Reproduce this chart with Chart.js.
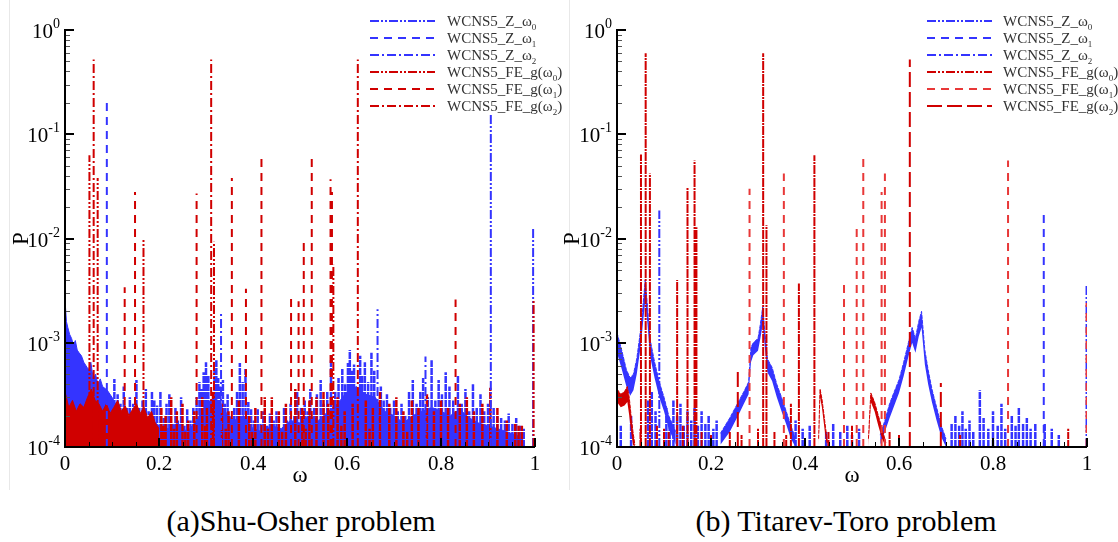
<!DOCTYPE html>
<html>
<head>
<meta charset="utf-8">
<script src="https://cdn.jsdelivr.net/npm/chart.js@4.4.1/dist/chart.umd.min.js"></script>
<style>
  body { margin: 0; width: 1118px; height: 542px; background: #fff; position: relative; overflow: hidden; }
  canvas { position: absolute; top: 0; }
  #leftChart { left: 0; }
  #rightChart { left: 559px; }
  .edge { position: absolute; top: 0; width: 1px; height: 490px; background: #e8e8e8; }
  .caption { position: absolute; top: 502px; width: 600px; text-align: center;
    font: 30px "Liberation Serif", "Times New Roman", serif; color: #000; line-height: 38px; }
</style>
</head>
<body>
<div class="edge" style="left:9px"></div>
<div class="edge" style="left:569px"></div>
<canvas id="leftChart" width="572" height="490"></canvas>
<canvas id="rightChart" width="559" height="490"></canvas>
<div class="caption" style="left:1px">(a)Shu-Osher problem</div>
<div class="caption" style="left:546px">(b) Titarev-Toro problem</div>
<script>
const FLOOR = 1e-4;
const SERIF = '"Liberation Serif", "Times New Roman", serif';

// axis ticks
const yDecades = [0, -1, -2, -3, -4];
const yTickExp = ['0', '-1', '-2', '-3', '-4'];
const xTicks = [0, 0.2, 0.4, 0.6, 0.8, 1];
const xTickLabels = ['0', '0.2', '0.4', '0.6', '0.8', '1'];

const legendLabels = [
  'WCNS5_Z_ω{0}', 'WCNS5_Z_ω{1}', 'WCNS5_Z_ω{2}',
  'WCNS5_FE_g(ω{0})', 'WCNS5_FE_g(ω{1})', 'WCNS5_FE_g(ω{2})',
];

// ---- (a) Shu-Osher: [omega, P] spikes ----
const leftZ0 = [[0.906, 0.16], [0.996, 0.0128]];
const leftZ1 = [[0.089, 0.2]];
const leftZ2 = [[0.332, 1.9e-3], [0.665, 2.1e-3], [0.767, 7.4e-4]];
const leftFE0 = [[0.052, 0.063], [0.0695, 0.038], [0.167, 0.0098], [0.317, 0.0093], [0.571, 5.6e-3], [0.997, 2.6e-3]];
const leftFE1 = [[0.127, 3.4e-3], [0.149, 0.028], [0.28, 0.027], [0.355, 0.038], [0.385, 3.3e-3], [0.418, 0.062],
  [0.481, 2.8e-3], [0.497, 2.5e-3], [0.508, 9.8e-3], [0.525, 0.061], [0.565, 0.037], [0.568, 0.028], [0.831, 2.6e-3]];
const leftFE2 = [[0.061, 0.52], [0.311, 0.52], [0.623, 0.52]];

// dense low-frequency content and the broadband floor
const leftZBandW = [0, 0.003, 0.006, 0.01, 0.014, 0.018, 0.022, 0.026, 0.03, 0.035, 0.04, 0.045, 0.05, 0.055, 0.06, 0.065, 0.07, 0.075, 0.08, 0.09, 0.1, 0.11];
const leftZBandP = [2.6e-3, 1.6e-3, 1.4e-3, 1.2e-3, 1.1e-3, 9.5e-4, 1.05e-3, 8.5e-4, 8e-4, 7.5e-4, 6.5e-4, 6e-4, 5.5e-4, 6.5e-4, 4.5e-4, 5e-4, 4e-4, 4.5e-4, 3.8e-4, 3.5e-4, 3e-4, 2.5e-4];
const leftFEBandW = [0, 0.008, 0.016, 0.024, 0.032, 0.04, 0.048, 0.056, 0.064, 0.072, 0.08, 0.088, 0.096, 0.104, 0.112, 0.12, 0.128, 0.136, 0.144, 0.152, 0.16, 0.168, 0.176, 0.184, 0.192, 0.2];
const leftFEBandP = [3.4e-4, 2.4e-4, 2.8e-4, 2.2e-4, 2.6e-4, 2.4e-4, 3e-4, 3.6e-4, 2.8e-4, 2.6e-4, 2.2e-4, 2.6e-4, 2.1e-4, 2.4e-4, 2.8e-4, 2.2e-4, 2.5e-4, 2e-4, 2.3e-4, 2.6e-4, 2.1e-4, 2.4e-4, 1.9e-4, 2.2e-4, 1.7e-4, 1.5e-4];
const leftZBaseW = [0.1, 0.12, 0.14, 0.16, 0.18, 0.2, 0.22, 0.24, 0.26, 0.28, 0.3, 0.32, 0.34, 0.36, 0.38, 0.4, 0.42, 0.44, 0.46, 0.48, 0.5,
  0.52, 0.54, 0.56, 0.58, 0.6, 0.62, 0.64, 0.66, 0.68, 0.7, 0.72, 0.74, 0.76, 0.78, 0.8, 0.82, 0.84, 0.86, 0.88, 0.9, 0.92, 0.94, 0.96, 0.975];
const leftZBaseP = [2.2e-4, 1.8e-4, 2e-4, 1.7e-4, 1.9e-4, 1.6e-4, 1.5e-4, 1.7e-4, 1.4e-4, 1.8e-4, 2.6e-4, 3e-4, 2.2e-4, 1.8e-4, 2e-4, 1.5e-4, 1.4e-4, 1.6e-4, 1.5e-4, 1.8e-4, 1.7e-4,
  2e-4, 1.8e-4, 2.2e-4, 2.6e-4, 3.4e-4, 3.8e-4, 3.2e-4, 3e-4, 2.2e-4, 2e-4, 1.7e-4, 2e-4, 2.2e-4, 2.4e-4, 2.2e-4, 2e-4, 2.3e-4, 1.9e-4, 1.7e-4, 1.6e-4, 1.5e-4, 1.4e-4, 1.3e-4, 1.2e-4];

const leftZNoise = [[0.105, 4.5e-4], [0.112, 3.2e-4], [0.118, 2.6e-4], [0.125, 3.8e-4], [0.132, 2.4e-4], [0.138, 3e-4],
  [0.145, 2.6e-4], [0.152, 4.4e-4], [0.158, 2.4e-4], [0.165, 2.8e-4], [0.172, 3.6e-4], [0.178, 2.2e-4], [0.185, 3.4e-4],
  [0.19, 2.8e-4], [0.196, 2.5e-4], [0.203, 3.4e-4], [0.21, 1.9e-4], [0.216, 2.6e-4], [0.222, 3.2e-4], [0.229, 1.7e-4],
  [0.235, 2.4e-4], [0.24, 1.8e-4], [0.247, 3e-4], [0.254, 1.6e-4], [0.26, 2.3e-4], [0.267, 1.8e-4], [0.273, 2.4e-4],
  [0.28, 3e-4], [0.286, 4.2e-4], [0.29, 3.6e-4], [0.295, 5.2e-4], [0.3, 6.5e-4], [0.305, 4.8e-4], [0.318, 5.5e-4],
  [0.322, 6.8e-4], [0.326, 4.6e-4], [0.33, 3.8e-4], [0.336, 4.4e-4], [0.34, 2.6e-4], [0.346, 3.2e-4], [0.352, 1.9e-4],
  [0.36, 2.4e-4], [0.366, 3.4e-4], [0.372, 6.4e-4], [0.378, 4.2e-4], [0.384, 5.6e-4], [0.39, 2.7e-4], [0.396, 2.3e-4],
  [0.402, 1.8e-4], [0.41, 2.3e-4], [0.416, 1.7e-4], [0.422, 2.2e-4], [0.43, 1.6e-4], [0.436, 2.1e-4], [0.444, 1.8e-4],
  [0.45, 2.2e-4], [0.458, 1.5e-4], [0.466, 2.4e-4], [0.472, 1.8e-4], [0.48, 2.6e-4], [0.488, 2e-4], [0.494, 3.4e-4],
  [0.502, 2.4e-4], [0.51, 2.8e-4], [0.516, 2.2e-4], [0.522, 3.6e-4], [0.53, 2.4e-4], [0.536, 3.2e-4], [0.544, 4.4e-4],
  [0.55, 2.6e-4], [0.558, 3.4e-4], [0.566, 6.8e-4], [0.575, 3.4e-4], [0.582, 4.6e-4], [0.59, 5.6e-4], [0.596, 4e-4],
  [0.602, 6.4e-4], [0.606, 8.5e-4], [0.61, 5.4e-4], [0.615, 6.2e-4], [0.628, 7.5e-4], [0.632, 4.8e-4], [0.638, 6.5e-4],
  [0.645, 4.2e-4], [0.652, 8e-4], [0.658, 5.4e-4], [0.672, 3.8e-4], [0.678, 2.8e-4], [0.685, 3.2e-4], [0.692, 2.4e-4],
  [0.7, 2.8e-4], [0.708, 2.2e-4], [0.716, 2.6e-4], [0.724, 2e-4], [0.732, 3.4e-4], [0.74, 4.4e-4], [0.748, 2.6e-4],
  [0.756, 3.4e-4], [0.762, 4.6e-4], [0.772, 3e-4], [0.78, 6.8e-4], [0.788, 2.8e-4], [0.795, 4.4e-4], [0.802, 3.2e-4],
  [0.81, 5.2e-4], [0.818, 3.8e-4], [0.826, 2.8e-4], [0.836, 4.8e-4], [0.844, 2.6e-4], [0.852, 3.6e-4], [0.86, 2.2e-4],
  [0.868, 4e-4], [0.876, 2.4e-4], [0.884, 3.2e-4], [0.892, 2.2e-4], [0.9, 2.6e-4], [0.912, 2.4e-4], [0.92, 2e-4],
  [0.928, 1.9e-4], [0.936, 1.8e-4], [0.944, 2.1e-4], [0.952, 1.7e-4], [0.96, 1.9e-4], [0.968, 1.6e-4], [0.976, 1.5e-4]];
const leftFENoise = [[0.205, 2.4e-4], [0.21, 1.6e-4], [0.214, 2e-4], [0.226, 3e-4], [0.232, 1.5e-4], [0.238, 2.2e-4],
  [0.25, 2.6e-4], [0.256, 1.4e-4], [0.262, 1.8e-4], [0.275, 2.2e-4], [0.292, 3e-4], [0.298, 1.6e-4], [0.302, 2.4e-4],
  [0.315, 3.4e-4], [0.334, 2.6e-4], [0.342, 1.5e-4], [0.348, 2.2e-4], [0.37, 2.8e-4], [0.392, 2e-4], [0.398, 1.4e-4],
  [0.405, 2.4e-4], [0.425, 3e-4], [0.432, 1.5e-4], [0.44, 3e-4], [0.455, 2.2e-4], [0.462, 1.4e-4], [0.47, 2.6e-4],
  [0.49, 3.6e-4], [0.505, 2.4e-4], [0.512, 1.5e-4], [0.52, 2.8e-4], [0.535, 3e-4], [0.55, 3.4e-4], [0.56, 2.6e-4],
  [0.58, 3e-4], [0.588, 1.6e-4], [0.595, 2.2e-4], [0.612, 2.6e-4], [0.64, 2.8e-4], [0.648, 1.5e-4], [0.655, 2.4e-4],
  [0.67, 3.4e-4], [0.69, 2.6e-4], [0.705, 3e-4], [0.72, 2.2e-4], [0.728, 1.4e-4], [0.738, 2.8e-4], [0.752, 2.4e-4],
  [0.77, 3.2e-4], [0.785, 2.2e-4], [0.8, 2.8e-4], [0.815, 2.4e-4], [0.84, 2.6e-4], [0.855, 3e-4], [0.87, 2.2e-4],
  [0.888, 2.6e-4], [0.905, 3.7e-4], [0.92, 2.4e-4], [0.94, 1.8e-4], [0.958, 1.7e-4], [0.965, 1.6e-4], [0.972, 1.6e-4]];

// ---- (b) Titarev-Toro ----
const rightZ0 = [[0.09, 0.0186], [0.999, 3.5e-3]];
const rightZ1 = [[0.908, 0.0172]];
const rightFE0 = [[0.051, 0.064], [0.061, 0.6], [0.07, 0.042], [0.128, 4e-3], [0.15, 0.031], [0.165, 0.056],
  [0.169, 0.0128], [0.311, 0.6], [0.318, 0.0134], [0.387, 3.7e-3], [0.42, 0.063]];
const rightFE1 = [[0.282, 0.03], [0.355, 0.042], [0.483, 3.7e-3], [0.51, 0.0134], [0.524, 0.064], [0.563, 0.028],
  [0.57, 0.042], [0.832, 0.056], [0.999, 2.4e-3]];
const rightFE2 = [[0.257, 5.7e-4], [0.623, 0.52], [0.689, 4.1e-4]];

// Z_w2 broadband humps: omega, upper and lower envelope
const rightHump1W = [0, 0.01, 0.02, 0.028, 0.035, 0.042, 0.05, 0.055, 0.06, 0.065, 0.07, 0.08, 0.09, 0.1, 0.11, 0.125];
const rightHump1Up = [1.25e-3, 8.5e-4, 5.5e-4, 4.6e-4, 5e-4, 7e-4, 1.3e-3, 2.2e-3, 4e-3, 2.2e-3, 1.1e-3, 6.5e-4, 4.2e-4, 3e-4, 2e-4, 1.4e-4];
const rightHump1Lo = [8e-4, 5.6e-4, 3.8e-4, 3.1e-4, 3.5e-4, 5e-4, 9e-4, 1.5e-3, 2.5e-3, 1.5e-3, 7.6e-4, 4.6e-4, 3e-4, 2.2e-4, 1.5e-4, 1.05e-4];
const rightHump2W = [0.22, 0.24, 0.26, 0.27, 0.28, 0.285, 0.29, 0.3, 0.305, 0.31, 0.315, 0.32, 0.33, 0.34, 0.35, 0.36, 0.37, 0.38];
const rightHump2Up = [1.35e-4, 1.9e-4, 2.8e-4, 3.4e-4, 4.2e-4, 9e-4, 1e-3, 1.1e-3, 1.5e-3, 2.2e-3, 1.2e-3, 7e-4, 5.8e-4, 4e-4, 3e-4, 2.2e-4, 1.6e-4, 1.2e-4];
const rightHump2Lo = [1.05e-4, 1.4e-4, 2.1e-4, 2.6e-4, 3.2e-4, 6.5e-4, 7.6e-4, 8.4e-4, 1.1e-3, 1.5e-3, 8.6e-4, 5.2e-4, 4.3e-4, 3e-4, 2.2e-4, 1.65e-4, 1.2e-4, 1e-4];
const rightHump3W = [0.56, 0.57, 0.58, 0.59, 0.6, 0.61, 0.62, 0.628, 0.635, 0.642, 0.648, 0.655, 0.662, 0.67, 0.68, 0.69, 0.7];
const rightHump3Up = [1.3e-4, 1.8e-4, 2.6e-4, 3.4e-4, 4.4e-4, 6.5e-4, 1e-3, 1.4e-3, 1.1e-3, 1.6e-3, 2e-3, 8.5e-4, 5.5e-4, 3.6e-4, 2.4e-4, 1.6e-4, 1.2e-4];
const rightHump3Lo = [1.05e-4, 1.4e-4, 1.9e-4, 2.5e-4, 3.3e-4, 4.8e-4, 7.4e-4, 1e-3, 8e-4, 1.15e-3, 1.4e-3, 6.2e-4, 4e-4, 2.7e-4, 1.8e-4, 1.25e-4, 1e-4];

// FE_g low-level humps
const rightRedHump1W = [0, 0.008, 0.016, 0.022, 0.026, 0.03, 0.034, 0.038];
const rightRedHump1Up = [3.6e-4, 3.2e-4, 3.4e-4, 3.8e-4, 3e-4, 2e-4, 1.4e-4, 1.05e-4];
const rightRedHump1Lo = [2.7e-4, 2.4e-4, 2.5e-4, 2.7e-4, 2e-4, 1.4e-4, 1.05e-4, 1e-4];
const rightRedHump2W = [0.429, 0.432, 0.436, 0.44, 0.444, 0.448];
const rightRedHump2Up = [1.2e-4, 3.6e-4, 2.9e-4, 2.1e-4, 1.5e-4, 1.1e-4];
const rightRedHump2Lo = [1e-4, 3e-4, 2.4e-4, 1.7e-4, 1.2e-4, 1e-4];
const rightRedHump3W = [0.535, 0.54, 0.548, 0.556, 0.564, 0.572];
const rightRedHump3Up = [1.2e-4, 3.3e-4, 2.7e-4, 2e-4, 1.5e-4, 1.1e-4];
const rightRedHump3Lo = [1e-4, 2.7e-4, 2.2e-4, 1.6e-4, 1.2e-4, 1e-4];

const rightZNoise = [[0.008, 1.6e-4], [0.03, 2e-4], [0.066, 2.8e-4], [0.074, 3.4e-4], [0.082, 2.2e-4],
  [0.105, 2.4e-4], [0.112, 1.8e-4], [0.12, 2.8e-4], [0.128, 2e-4], [0.135, 2.6e-4], [0.142, 1.6e-4],
  [0.15, 2.2e-4], [0.158, 1.8e-4], [0.165, 2.4e-4], [0.172, 1.6e-4], [0.18, 2.2e-4], [0.188, 1.7e-4], [0.195, 2e-4],
  [0.205, 1.5e-4], [0.212, 1.8e-4], [0.38, 1.8e-4], [0.395, 1.5e-4], [0.41, 1.6e-4], [0.445, 1.4e-4], [0.46, 1.7e-4],
  [0.475, 1.4e-4], [0.49, 1.6e-4], [0.5, 1.3e-4], [0.515, 1.5e-4], [0.712, 1.7e-4], [0.72, 2e-4], [0.728, 1.6e-4],
  [0.735, 2.2e-4], [0.742, 1.5e-4], [0.75, 1.8e-4], [0.758, 1.4e-4], [0.772, 3.5e-4], [0.78, 1.9e-4], [0.79, 1.5e-4],
  [0.8, 2.2e-4], [0.81, 1.6e-4], [0.818, 2.6e-4], [0.826, 1.5e-4], [0.84, 2e-4], [0.848, 1.6e-4], [0.855, 2.4e-4],
  [0.864, 1.7e-4], [0.872, 1.9e-4], [0.88, 1.5e-4], [0.89, 1.7e-4], [0.91, 1.7e-4], [0.925, 1.5e-4], [0.94, 1.3e-4]];
const rightFENoise = [[0.05, 1.5e-4], [0.085, 1.6e-4], [0.1, 1.5e-4], [0.11, 1.4e-4], [0.14, 1.6e-4],
  [0.18, 1.4e-4], [0.2, 1.3e-4], [0.24, 1.4e-4], [0.265, 1.3e-4], [0.3, 1.5e-4], [0.335, 1.4e-4], [0.36, 1.3e-4],
  [0.37, 2.6e-4], [0.45, 1.4e-4], [0.5, 1.6e-4], [0.58, 1.4e-4], [0.6, 1.3e-4], [0.73, 1.3e-4], [0.96, 1.5e-4]];

const BLUE = 'rgb(52,52,255)';
const RED = 'rgb(208,0,0)';
const RED_LIGHT = 'rgb(232,56,56)';
const DASH_DDOT = [9, 2, 2, 2, 2, 2];
const DASH = [8, 6];
const DASH_DOT = [9, 3, 2, 3];
const LONG_DASH = [15, 5];
const NOISE_DASH = [7, 1];

const spikePoints = (list) => {
  const pts = [];
  list.forEach(([w, p]) => pts.push({ x: w, y: FLOOR }, { x: w, y: p }, { x: w, y: null }));
  return pts;
};
const curvePoints = (ws, ps) => ws.map((w, i) => ({ x: w, y: ps[i] }));

const spikeSet = (list, color, dash, order, width = 2) => ({
  data: spikePoints(list), borderColor: color, borderDash: dash, borderWidth: width,
  pointRadius: 0, fill: false, spanGaps: false, order,
});
const floorBand = (ws, ps, color, order) => ({
  data: curvePoints(ws, ps), borderColor: color, backgroundColor: color, borderWidth: 1,
  pointRadius: 0, fill: 'start', order,
});
// lower edge is invisible, upper fills down to it
const rangeBand = (ws, up, lo, color, order) => [
  { data: curvePoints(ws, lo), borderWidth: 0, borderColor: 'transparent', pointRadius: 0, fill: false, order },
  { data: curvePoints(ws, up), borderColor: color, backgroundColor: color, borderWidth: 1, borderDash: [4, 1],
    pointRadius: 0, fill: '-1', order },
];

const leftLegend = [
  { color: BLUE, dash: DASH_DDOT }, { color: BLUE, dash: DASH }, { color: BLUE, dash: DASH_DOT },
  { color: RED, dash: DASH_DDOT }, { color: RED, dash: DASH }, { color: RED, dash: DASH_DOT },
];
const rightLegend = [
  { color: BLUE, dash: DASH_DDOT }, { color: BLUE, dash: DASH }, { color: BLUE, dash: DASH_DOT },
  { color: RED, dash: DASH_DDOT }, { color: RED_LIGHT, dash: DASH }, { color: RED, dash: LONG_DASH },
];

const leftDatasets = [
  floorBand(leftZBandW, leftZBandP, BLUE, 4),
  floorBand(leftZBaseW, leftZBaseP, BLUE, 4),
  floorBand(leftFEBandW, leftFEBandP, RED, 3),
  spikeSet(leftZNoise, BLUE, NOISE_DASH, 4, 2.5),
  spikeSet(leftFENoise, RED, NOISE_DASH, 3, 2.5),
  spikeSet(leftZ0, BLUE, DASH_DDOT, 1),
  spikeSet(leftZ1, BLUE, DASH, 1),
  spikeSet(leftZ2, BLUE, DASH_DOT, 1),
  spikeSet(leftFE0, RED, DASH_DDOT, 0),
  spikeSet(leftFE1, RED, DASH, 0),
  spikeSet(leftFE2, RED, DASH_DOT, 0),
];

const rightDatasets = [
  ...rangeBand(rightHump1W, rightHump1Up, rightHump1Lo, BLUE, 4),
  ...rangeBand(rightHump2W, rightHump2Up, rightHump2Lo, BLUE, 4),
  ...rangeBand(rightHump3W, rightHump3Up, rightHump3Lo, BLUE, 4),
  ...rangeBand(rightRedHump1W, rightRedHump1Up, rightRedHump1Lo, RED, 3),
  ...rangeBand(rightRedHump2W, rightRedHump2Up, rightRedHump2Lo, RED, 3),
  ...rangeBand(rightRedHump3W, rightRedHump3Up, rightRedHump3Lo, RED, 3),
  spikeSet(rightZNoise, BLUE, NOISE_DASH, 4, 2.5),
  spikeSet(rightFENoise, RED, NOISE_DASH, 3, 2),
  spikeSet(rightZ0, BLUE, DASH_DDOT, 1),
  spikeSet(rightZ1, BLUE, DASH, 1),
  spikeSet(rightFE0, RED, [9, 1, 2, 1], 0),
  spikeSet(rightFE1, RED_LIGHT, DASH, 0),
  spikeSet(rightFE2, RED, LONG_DASH, 0),
];

const strokeLine = (ctx, x1, y1, x2, y2) => {
  ctx.beginPath(); ctx.moveTo(x1, y1); ctx.lineTo(x2, y2); ctx.stroke();
};

// text with {n} parts drawn as subscripts
const drawSubText = (ctx, text, x, y, size) => {
  let cx = x;
  text.split(/(\{\w+\})/).forEach((part) => {
    if (!part) return;
    if (part.startsWith('{')) {
      ctx.font = `${Math.round(size * 0.62)}px ${SERIF}`;
      const t = part.slice(1, -1);
      ctx.fillText(t, cx, y + 4);
      cx += ctx.measureText(t).width;
    } else {
      ctx.font = `${size}px ${SERIF}`;
      ctx.fillText(part, cx, y);
      cx += ctx.measureText(part).width;
    }
  });
};

const framePlugin = ({ titleX, legendX, legend }) => ({
  id: 'frame',
  afterDatasetsDraw(chart) {
    const { ctx, chartArea: a, scales: { x, y } } = chart;
    ctx.save();

    // minor log ticks
    ctx.strokeStyle = '#555';
    ctx.lineWidth = 1;
    for (let e = -4; e < 0; e++) {
      for (let m = 2; m < 10; m++) {
        const py = Math.round(y.getPixelForValue(m * 10 ** e)) + 0.5;
        strokeLine(ctx, a.left, py, a.left + 5, py);
      }
    }
    ctx.strokeStyle = '#000';
    for (let v = 0.05; v < 1; v += 0.05) {
      const px = Math.round(x.getPixelForValue(v)) + 0.5;
      strokeLine(ctx, px, a.bottom, px, a.bottom - 5);
    }
    // major ticks and axis lines
    ctx.lineWidth = 2;
    yDecades.forEach((e) => {
      const py = Math.round(y.getPixelForValue(10 ** e));
      strokeLine(ctx, a.left, py, a.left + 9, py);
    });
    xTicks.forEach((v) => {
      const px = Math.round(x.getPixelForValue(v));
      strokeLine(ctx, px, a.bottom, px, a.bottom - 9);
    });
    strokeLine(ctx, a.left, a.top - 1, a.left, a.bottom + 1);
    strokeLine(ctx, a.left - 1, a.bottom, a.right, a.bottom);

    // tick labels
    ctx.fillStyle = '#000';
    ctx.textAlign = 'left';
    ctx.textBaseline = 'alphabetic';
    yDecades.forEach((e, i) => {
      const py = y.getPixelForValue(10 ** e);
      ctx.font = `21px ${SERIF}`;
      const wb = ctx.measureText('10').width;
      ctx.font = `14px ${SERIF}`;
      const ws = ctx.measureText(yTickExp[i]).width;
      const right = a.left - 5;
      ctx.font = `21px ${SERIF}`;
      ctx.fillText('10', right - ws - wb, py + 8);
      ctx.font = `14px ${SERIF}`;
      ctx.fillText(yTickExp[i], right - ws, py - 2);
    });
    ctx.font = `21px ${SERIF}`;
    ctx.textAlign = 'center';
    xTicks.forEach((v, i) => ctx.fillText(xTickLabels[i], x.getPixelForValue(v), a.bottom + 23));

    // axis titles
    ctx.font = `23px ${SERIF}`;
    ctx.textBaseline = 'middle';
    ctx.fillText('ω', (a.left + a.right) / 2, a.bottom + 29);
    ctx.save();
    ctx.translate(titleX, (a.top + a.bottom) / 2);
    ctx.rotate(-Math.PI / 2);
    ctx.fillText('P', 0, 0);
    ctx.restore();

    // legend
    ctx.textAlign = 'left';
    ctx.textBaseline = 'alphabetic';
    legend.forEach((item, i) => {
      const ry = 21 + i * 17;
      ctx.strokeStyle = item.color;
      ctx.lineWidth = 2;
      ctx.setLineDash(item.dash);
      strokeLine(ctx, legendX[0], ry, legendX[1], ry);
      ctx.setLineDash([]);
      ctx.fillStyle = '#333';
      drawSubText(ctx, legendLabels[i], legendX[2], ry + 5, 15);
    });
    ctx.restore();
  },
});

const makeChart = (id, datasets, padding, panel) => new Chart(document.getElementById(id), {
  type: 'line',
  data: { datasets },
  plugins: [framePlugin(panel)],
  options: {
    responsive: false,
    animation: false,
    events: [],
    layout: { padding },
    elements: { line: { tension: 0 }, point: { radius: 0 } },
    plugins: { legend: { display: false }, tooltip: { enabled: false } },
    scales: {
      x: { type: 'linear', min: 0, max: 1, display: false },
      y: { type: 'logarithmic', min: FLOOR, max: 1, display: false },
    },
  },
});

makeChart('leftChart', leftDatasets, { left: 65, right: 37, top: 30, bottom: 43 },
  { titleX: 22, legendX: [370, 435, 447], legend: leftLegend });
makeChart('rightChart', rightDatasets, { left: 58, right: 31, top: 30, bottom: 43 },
  { titleX: 14, legendX: [368, 433, 444], legend: rightLegend });
</script>
</body>
</html>
